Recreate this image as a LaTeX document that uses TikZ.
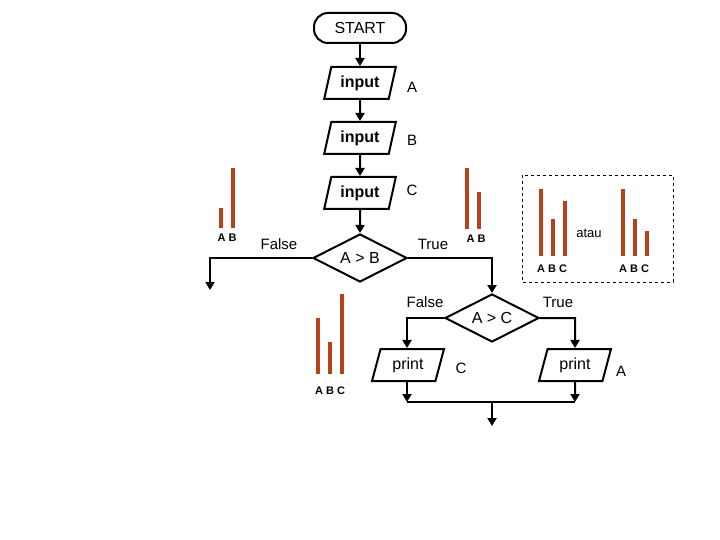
\documentclass[tikz,border=0pt]{standalone}
\usepackage{fontspec}
\setmainfont{Liberation Sans}
\usetikzlibrary{shapes.geometric,arrows.meta}
\definecolor{bar}{RGB}{185,65,25}
\begin{document}
\begin{tikzpicture}[x=1pt,y=-1pt,
  base/.style={draw,line width=2pt,inner sep=0pt,font=\fontsize{16}{18}\selectfont},
  io/.style={base,trapezium,trapezium left angle=72,trapezium right angle=108,minimum width=72pt,minimum height=32pt,trapezium stretches=true},
  dec/.style={base,diamond,minimum width=94pt,minimum height=48pt,aspect=2},
  lab/.style={font=\fontsize{15}{17}\selectfont},
  sm/.style={font=\bfseries\fontsize{11}{12}\selectfont},
  ar/.style={line width=2pt,-{Triangle[length=8pt,width=9pt]}},
  ln/.style={line width=2pt},
  b/.style={line width=4pt,draw=bar}]
\useasboundingbox (0,0) rectangle (720,540);
\node[base,rounded corners=14pt,minimum width=92pt,minimum height=30pt] (start) at (360,28) {START};
\node[io] (i1) at (360,83) {\textbf{input}};
\node[io] (i2) at (360,138) {\textbf{input}};
\node[io] (i3) at (360,193) {\textbf{input}};
\node[lab] (la) at (412,87) {A};
\node[lab] (lb) at (412,140) {B};
\node[lab] (lc) at (412,190) {C};
\node[dec] (d1) at (360,258) {A > B};
\node[dec] (d2) at (492,318) {A > C};
\node[io] (p1) at (408,365) {print};
\node[io] (p2) at (575,365) {print};
\node[lab] (lc2) at (461,368) {C};
\node[lab] (la2) at (621,371) {A};
\draw[ar] (start) -- (i1);
\draw[ar] (i1) -- (i2);
\draw[ar] (i2) -- (i3);
\draw[ar] (i3) -- (d1);
\coordinate (fl) at (210,258);
\coordinate (fe) at (210,290);
\draw[ar] (d1.west) -- (fl) -- (fe);
\coordinate (tr) at (492,258);
\draw[ar] (d1.east) -- (tr) -- (d2.north);
\coordinate (f2) at (407,318);
\draw[ar] (d2.west) -- (f2) -- (p1.north -| f2);
\coordinate (t2) at (575,318);
\draw[ar] (d2.east) -- (t2) -- (p2.north);
\coordinate (j1) at (407,402);
\coordinate (j2) at (575,402);
\coordinate (jm) at (492,402);
\coordinate (end) at (492,426);
\draw[ar] (p1.south -| j1) -- (j1);
\draw[ar] (p2.south) -- (j2);
\draw[ln] (j1) -- (j2);
\draw[ar] (jm) -- (end);
\node[lab] at (279,244) {False};
\node[lab] at (433,244) {True};
\node[lab] at (425,302) {False};
\node[lab] at (558,302) {True};
\node[font=\fontsize{13}{14}\selectfont] at (589,233) {atau};
\draw[dashed,line width=0.8pt] (522,175) rectangle (673,282);
% bars
\draw[b] (221,208) -- (221,228); \draw[b] (233,168) -- (233,228);
\node[sm] at (227,238) {A B};
\draw[b] (467,168) -- (467,229); \draw[b] (479,192) -- (479,229);
\node[sm] at (476,239) {A B};
\draw[b] (541,189) -- (541,256); \draw[b] (553,219) -- (553,256); \draw[b] (565,201) -- (565,256);
\node[sm] at (552,269) {A B C};
\draw[b] (623,189) -- (623,256); \draw[b] (635,219) -- (635,256); \draw[b] (647,231) -- (647,256);
\node[sm] at (634,269) {A B C};
\draw[b] (318,318) -- (318,374); \draw[b] (330,342) -- (330,374); \draw[b] (342,294) -- (342,374);
\node[sm] at (330,391) {A B C};
\end{tikzpicture}
\end{document}
